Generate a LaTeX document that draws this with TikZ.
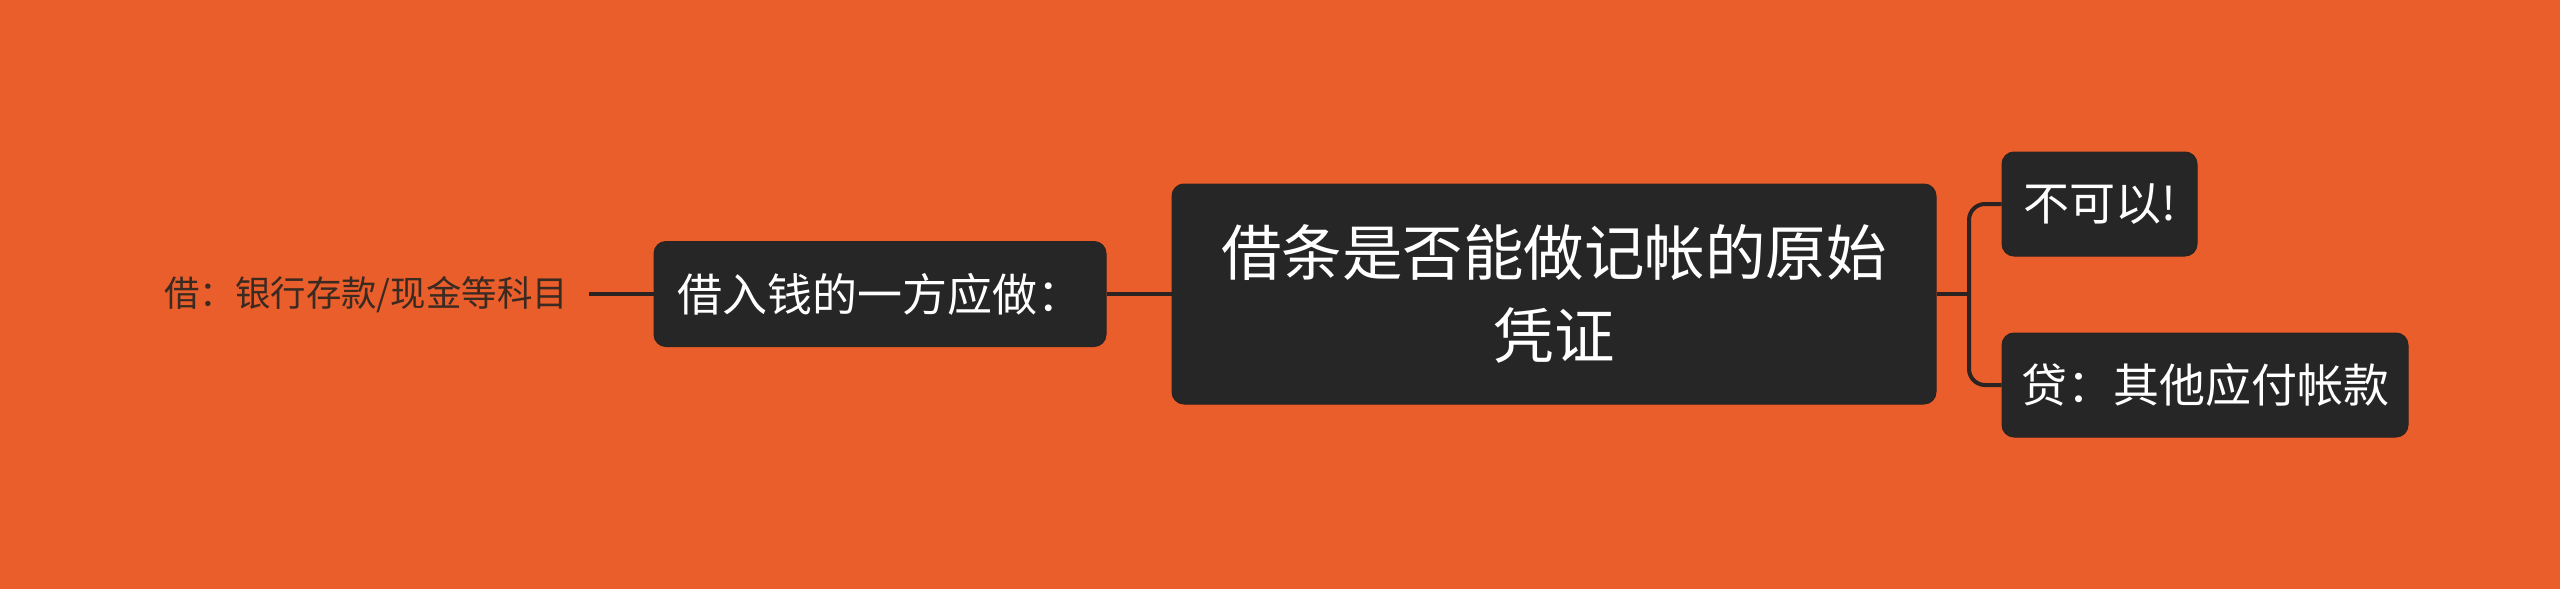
\documentclass[tikz,border=0pt]{standalone}
\usepackage{fontspec}
\setmainfont{Noto Sans CJK SC}
\definecolor{bgorange}{HTML}{E95E2A}
\definecolor{boxdark}{HTML}{262626}
\definecolor{linedark}{HTML}{2A2321}
\definecolor{leaftext}{HTML}{3A2A22}
\begin{document}
\begin{tikzpicture}[x=1pt,y=1pt,
  topicbox/.style={fill=boxdark, draw=linedark, line width=1pt, rounded corners=12pt,
    text=white, inner sep=0pt, align=center},
  link/.style={draw=linedark, line width=4pt},
]
\useasboundingbox (0,0) rectangle (2560,-589);
\fill[bgorange] (0,0) rectangle (2560,-589);

\node[topicbox, minimum width=764pt, minimum height=220pt,
  font=\fontsize{60.5}{83}\selectfont] (root) at (1554,-294)
  {借条是否能做记帐的原始\\凭证};
\node[topicbox, minimum width=452pt, minimum height=105pt,
  font=\fontsize{45}{52}\selectfont] (left) at (880,-294) {借入钱的一方应做：};
\node[topicbox, minimum width=195pt, minimum height=104pt,
  font=\fontsize{46}{52}\selectfont] (no) at (2099.5,-204) {不可以!};
\node[topicbox, minimum width=406pt, minimum height=104pt,
  font=\fontsize{46}{52}\selectfont] (dai) at (2205,-385) {贷：其他应付帐款};
\node[text=leaftext, inner sep=0pt, anchor=east,
  font=\fontsize{35.4}{42}\selectfont] (jie) at (568,-295) {借：银行存款/现金等科目};

\coordinate (j) at (1969,-294);
\draw[link] ([xshift=21pt]jie.east |- left.west) -- (left.west);
\draw[link] (left.east) -- (root.west);
\draw[link] (root.east) -- (j);
\draw[link, rounded corners=16pt] (j) |- (no.west);
\draw[link, rounded corners=16pt] (j) |- (dai.west);
\end{tikzpicture}
\end{document}
